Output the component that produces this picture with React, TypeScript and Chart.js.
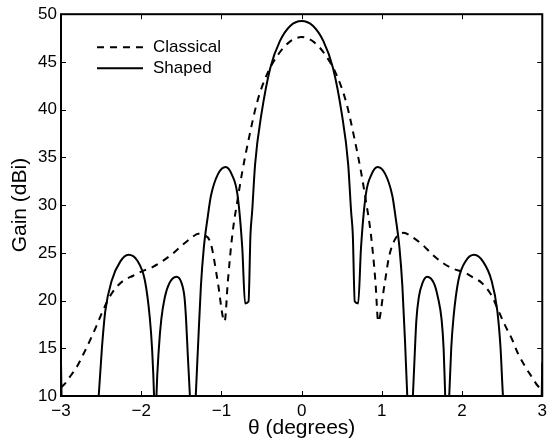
import React, { useEffect, useRef } from "react";
import { Chart, registerables } from "chart.js";

Chart.register(...registerables);

const FONT = "'Liberation Sans', Arial, Helvetica, sans-serif";

const xTicks = [-3, -2, -1, 0, 1, 2, 3];
const yTicks = [10, 15, 20, 25, 30, 35, 40, 45, 50];
const seriesLabels = ["Classical", "Shaped"];
const xTitle = "θ (degrees)";
const yTitle = "Gain (dBi)";

const classicalTheta = [
  -3.0, -2.95, -2.89, -2.8, -2.72, -2.64, -2.56, -2.48, -2.4, -2.32, -2.22, -2.1, -1.98, -1.86, -1.74,
  -1.61, -1.49, -1.37, -1.29, -1.22, -1.13, -1.05, -0.96, -0.92, -0.864, -0.8, -0.74, -0.66, -0.556,
  -0.432, -0.29, -0.15, 0,
  0.15, 0.29, 0.432, 0.556, 0.66, 0.74, 0.8, 0.864, 0.92, 0.955, 1.03, 1.09, 1.17, 1.27, 1.37, 1.5,
  1.62, 1.75, 1.87, 2.04, 2.16, 2.24, 2.37, 2.45, 2.53, 2.62, 2.7, 2.8, 2.87, 2.94, 3.0,
];
const classicalGain = [
  10.9, 11.3, 12.0, 13.1, 14.4, 15.8, 17.3, 18.9, 20.3, 21.3, 22.1, 22.6, 23.1, 23.5, 24.1,
  24.9, 25.8, 26.6, 27.0, 26.9, 25.9, 22.2, 17.8, 22.0, 26.9, 30.5, 33.5, 36.9, 40.75,
  43.7, 45.8, 47.1, 47.6,
  47.1, 45.8, 43.7, 40.75, 36.9, 33.5, 30.5, 26.9, 22.0, 17.8, 21.5, 24.6, 26.5, 27.1, 26.7, 25.9,
  24.9, 24.0, 23.4, 22.9, 22.3, 21.9, 20.5, 19.0, 17.5, 16.0, 14.4, 12.9, 12.0, 11.1, 10.7,
];

const shapedTheta = [
  -3.0, -2.99, -2.9, -2.75, -2.6, -2.53, -2.49, -2.448, -2.367, -2.26, -2.16, -2.05, -1.954, -1.893,
  -1.865, -1.84, -1.825, -1.81, -1.78, -1.75, -1.707, -1.65, -1.56, -1.5, -1.46, -1.44, -1.42, -1.393,
  -1.355, -1.32, -1.29, -1.256, -1.22, -1.17, -1.13, -1.04, -0.947, -0.87, -0.8, -0.74, -0.705, -0.662,
  -0.638, -0.617, -0.58, -0.5, -0.39, -0.27, -0.14, 0,
  0.14, 0.27, 0.39, 0.5, 0.58, 0.617, 0.638, 0.662, 0.705, 0.74, 0.8, 0.87, 0.947, 1.04, 1.13, 1.17,
  1.22, 1.256, 1.29, 1.317, 1.35, 1.387, 1.41, 1.43, 1.46, 1.51, 1.564, 1.65, 1.7, 1.745, 1.77, 1.79,
  1.815, 1.84, 1.865, 1.893, 1.954, 2.05, 2.152, 2.26, 2.367, 2.44, 2.48, 2.51, 2.6, 2.75, 2.9, 2.99, 3.0,
];
const shapedGain = [
  13.5, 9, 3, 0, 3, 10, 15, 18.9, 22.1, 24.1, 24.8, 24.2, 22.1, 18.2,
  15, 10, 4, 10, 15, 18, 20.3, 21.8, 22.5, 21.9, 20.3, 17.9, 14.4, 10,
  2, 10, 15.5, 21.5, 25.5, 28.8, 31.0, 33.3, 34.0, 33.2, 31.1, 25.5, 19.7, 19.9,
  26.9, 29.3, 34.3, 39.6, 44.4, 47.2, 48.8, 49.3,
  48.8, 47.2, 44.4, 39.6, 34.3, 29.3, 26.9, 19.9, 19.7, 25.5, 31.1, 33.2, 34.0, 33.3, 31.0, 28.8,
  25.5, 21.5, 15.5, 10, 2, 10, 14.4, 17.9, 20.3, 21.9, 22.5, 21.8, 20.3, 18, 15, 10,
  4, 10, 15, 18.2, 22.1, 24.2, 24.8, 24.1, 22.1, 18.9, 15, 10, 3, 0, 3, 9, 13.5,
];

const fmt = (v: number) => (v < 0 ? "\u2212" + Math.abs(v) : String(v));

const framePlugin = {
  id: "frameAndLegend",
  afterDraw(chart: any) {
    const { ctx, chartArea: a, scales } = chart;
    ctx.save();
    ctx.strokeStyle = "#000";
    ctx.lineWidth = 1;
    ctx.setLineDash([]);
    const tl = 5;
    ctx.beginPath();
    for (const v of xTicks) {
      const px = Math.round(scales.x.getPixelForValue(v)) + 0.5;
      ctx.moveTo(px, a.bottom);
      ctx.lineTo(px, a.bottom - tl);
      ctx.moveTo(px, a.top);
      ctx.lineTo(px, a.top + tl);
    }
    for (const v of yTicks) {
      const py = Math.round(scales.y.getPixelForValue(v)) + 0.5;
      ctx.moveTo(a.left, py);
      ctx.lineTo(a.left + tl, py);
      ctx.moveTo(a.right, py);
      ctx.lineTo(a.right - tl, py);
    }
    ctx.stroke();
    ctx.lineWidth = 2;
    ctx.strokeRect(a.left, a.top, a.right - a.left, a.bottom - a.top);

    const lx = a.left + 36;
    const ly = a.top + 33;
    const gap = 21;
    const len = 46;
    chart.data.datasets.forEach((d: any, i: number) => {
      const y = ly + i * gap;
      ctx.setLineDash(d.borderDash || []);
      ctx.lineWidth = d.borderWidth;
      ctx.strokeStyle = d.borderColor;
      ctx.beginPath();
      ctx.moveTo(lx, y);
      ctx.lineTo(lx + len, y);
      ctx.stroke();
      ctx.setLineDash([]);
      ctx.fillStyle = "#000";
      ctx.font = `17px ${FONT}`;
      ctx.textBaseline = "middle";
      ctx.textAlign = "left";
      ctx.fillText(d.label, lx + len + 10, y);
    });
    ctx.restore();
  },
};

export default function App() {
  const ref = useRef<HTMLCanvasElement | null>(null);
  useEffect(() => {
    if (!ref.current) return;
    const chart = new Chart(ref.current, {
      type: "line",
      data: {
        datasets: [
          {
            label: seriesLabels[0],
            data: classicalTheta.map((x, i) => ({ x, y: classicalGain[i] })),
            borderColor: "#000",
            borderWidth: 2,
            borderDash: [7, 6],
            pointRadius: 0,
            fill: false,
            cubicInterpolationMode: "monotone",
          },
          {
            label: seriesLabels[1],
            data: shapedTheta.map((x, i) => ({ x, y: shapedGain[i] })),
            borderColor: "#000",
            borderWidth: 2,
            pointRadius: 0,
            fill: false,
            cubicInterpolationMode: "monotone",
          },
        ],
      },
      options: {
        responsive: false,
        maintainAspectRatio: false,
        animation: false,
        events: [],
        layout: { padding: { top: 11, right: 5, left: 0, bottom: 0 } },
        plugins: { legend: { display: false }, tooltip: { enabled: false } },
        scales: {
          x: {
            type: "linear",
            min: -3,
            max: 3,
            afterBuildTicks: (s: any) => {
              s.ticks = xTicks.map((v) => ({ value: v }));
            },
            afterFit: (s: any) => {
              s.height = 47;
            },
            grid: { display: false, drawTicks: false },
            border: { display: false },
            ticks: {
              font: { size: 17, family: FONT },
              color: "#000",
              padding: 5,
              maxRotation: 0,
              autoSkip: false,
              callback: (v: any) => fmt(Number(v)),
            },
            title: {
              display: true,
              text: xTitle,
              font: { size: 21, family: FONT },
              color: "#000",
              padding: { top: 0, bottom: 2 },
            },
          },
          y: {
            type: "linear",
            min: 10,
            max: 50,
            afterBuildTicks: (s: any) => {
              s.ticks = yTicks.map((v) => ({ value: v }));
            },
            afterFit: (s: any) => {
              s.width = 61;
            },
            grid: { display: false, drawTicks: false },
            border: { display: false },
            ticks: {
              font: { size: 17, family: FONT },
              color: "#000",
              padding: 4,
              autoSkip: false,
              callback: (v: any) => fmt(Number(v)),
            },
            title: {
              display: true,
              text: yTitle,
              font: { size: 21, family: FONT },
              color: "#000",
              padding: { top: 8, bottom: 0 },
            },
          },
        },
      },
      plugins: [framePlugin],
    } as any);
    return () => chart.destroy();
  }, []);
  return (
    <div style={{ position: "absolute", left: 0, top: 0, width: 552, height: 443, background: "#fff" }}>
      <canvas ref={ref} width={552} height={443} style={{ display: "block" }} />
    </div>
  );
}
